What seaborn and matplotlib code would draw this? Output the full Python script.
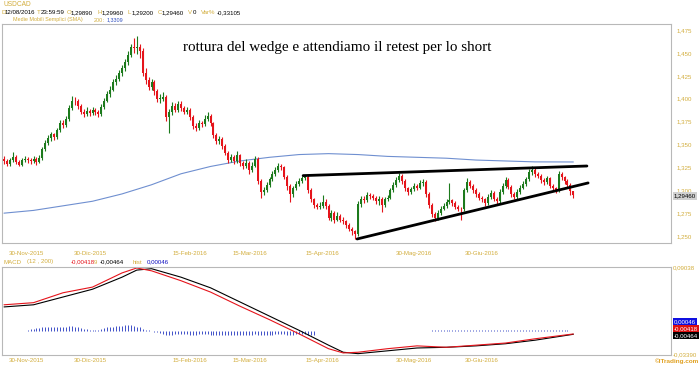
import matplotlib
matplotlib.use("Agg")
import matplotlib.pyplot as plt
import seaborn as sns
import pandas as pd

# ---------------- data ----------------
close = [1.332, 1.329, 1.333, 1.336, 1.331, 1.328, 1.333, 1.334, 1.333, 1.332,
         1.334, 1.331, 1.335, 1.345, 1.352, 1.357, 1.361, 1.358, 1.366, 1.374,
         1.371, 1.378, 1.390, 1.398, 1.397, 1.392, 1.386, 1.383, 1.387, 1.384,
         1.388, 1.385, 1.383, 1.391, 1.398, 1.405, 1.410, 1.418, 1.422, 1.428,
         1.433, 1.440, 1.448, 1.456, 1.455, 1.457, 1.452, 1.428, 1.420, 1.413,
         1.418, 1.408, 1.400, 1.400, 1.402, 1.380, 1.385, 1.392, 1.388, 1.394,
         1.390, 1.386, 1.388, 1.380, 1.370, 1.368, 1.374, 1.372, 1.378, 1.381,
         1.373, 1.360, 1.354, 1.356, 1.348, 1.341, 1.333, 1.336, 1.332, 1.338,
         1.330, 1.326, 1.330, 1.322, 1.327, 1.334, 1.310, 1.298, 1.300, 1.306,
         1.312, 1.318, 1.322, 1.327, 1.325, 1.315, 1.305, 1.296, 1.302, 1.307,
         1.310, 1.313, 1.315, 1.300, 1.290, 1.284, 1.282, 1.283, 1.287, 1.283,
         1.270, 1.275, 1.268, 1.272, 1.268, 1.266, 1.262, 1.258, 1.255, 1.252,
         1.285, 1.291, 1.289, 1.295, 1.294, 1.292, 1.288, 1.291, 1.284, 1.290,
         1.292, 1.300, 1.306, 1.311, 1.316, 1.310, 1.302, 1.298, 1.301, 1.305,
         1.303, 1.308, 1.309, 1.296, 1.284, 1.274, 1.270, 1.275, 1.280, 1.283,
         1.287, 1.289, 1.286, 1.282, 1.280, 1.279, 1.300, 1.309, 1.305, 1.300,
         1.296, 1.292, 1.290, 1.286, 1.293, 1.297, 1.291, 1.288, 1.298, 1.305,
         1.311, 1.304, 1.296, 1.293, 1.298, 1.303, 1.307, 1.312, 1.320, 1.322,
         1.318, 1.316, 1.311, 1.309, 1.313, 1.305, 1.302, 1.300, 1.318, 1.314,
         1.310, 1.306, 1.2989, 1.2946]
high = [1.337, 1.334, 1.335, 1.342, 1.338, 1.333, 1.335, 1.337, 1.336, 1.335,
        1.337, 1.336, 1.338, 1.347, 1.355, 1.360, 1.364, 1.363, 1.368, 1.377,
        1.377, 1.381, 1.393, 1.403, 1.402, 1.400, 1.394, 1.389, 1.391, 1.389,
        1.391, 1.390, 1.388, 1.394, 1.401, 1.408, 1.414, 1.421, 1.426, 1.431,
        1.437, 1.443, 1.452, 1.460, 1.466, 1.469, 1.460, 1.455, 1.433, 1.424,
        1.422, 1.420, 1.411, 1.405, 1.407, 1.404, 1.389, 1.396, 1.395, 1.398,
        1.397, 1.392, 1.391, 1.390, 1.382, 1.373, 1.377, 1.376, 1.382, 1.386,
        1.383, 1.375, 1.362, 1.359, 1.358, 1.350, 1.343, 1.340, 1.338, 1.343,
        1.340, 1.332, 1.334, 1.332, 1.331, 1.337, 1.336, 1.312, 1.304, 1.309,
        1.315, 1.321, 1.325, 1.330, 1.329, 1.327, 1.317, 1.307, 1.305, 1.310,
        1.313, 1.316, 1.317, 1.317, 1.302, 1.292, 1.286, 1.287, 1.295, 1.290,
        1.285, 1.278, 1.277, 1.276, 1.274, 1.271, 1.268, 1.264, 1.260, 1.257,
        1.288, 1.294, 1.294, 1.298, 1.297, 1.296, 1.294, 1.294, 1.293, 1.293,
        1.295, 1.303, 1.309, 1.314, 1.319, 1.318, 1.312, 1.304, 1.304, 1.308,
        1.307, 1.311, 1.312, 1.311, 1.298, 1.286, 1.276, 1.278, 1.283, 1.286,
        1.290, 1.308, 1.291, 1.288, 1.284, 1.282, 1.303, 1.313, 1.311, 1.307,
        1.302, 1.298, 1.294, 1.292, 1.296, 1.300, 1.299, 1.293, 1.301, 1.308,
        1.315, 1.313, 1.306, 1.298, 1.301, 1.306, 1.310, 1.315, 1.323, 1.326,
        1.324, 1.320, 1.318, 1.313, 1.316, 1.315, 1.307, 1.304, 1.321, 1.320,
        1.316, 1.312, 1.308, 1.2996]
low = [1.329, 1.326, 1.327, 1.331, 1.329, 1.326, 1.327, 1.331, 1.330, 1.329,
       1.330, 1.328, 1.330, 1.333, 1.343, 1.349, 1.354, 1.355, 1.356, 1.364,
       1.368, 1.369, 1.376, 1.388, 1.393, 1.389, 1.383, 1.380, 1.381, 1.381,
       1.382, 1.382, 1.380, 1.381, 1.389, 1.396, 1.402, 1.408, 1.415, 1.419,
       1.425, 1.430, 1.437, 1.446, 1.450, 1.449, 1.444, 1.425, 1.416, 1.410,
       1.410, 1.404, 1.396, 1.395, 1.397, 1.376, 1.363, 1.382, 1.385, 1.386,
       1.387, 1.383, 1.383, 1.377, 1.367, 1.365, 1.366, 1.369, 1.370, 1.376,
       1.370, 1.357, 1.351, 1.351, 1.345, 1.338, 1.330, 1.331, 1.329, 1.330,
       1.327, 1.323, 1.324, 1.318, 1.320, 1.325, 1.307, 1.292, 1.295, 1.298,
       1.304, 1.310, 1.316, 1.320, 1.322, 1.312, 1.300, 1.287, 1.293, 1.300,
       1.305, 1.308, 1.311, 1.297, 1.287, 1.281, 1.279, 1.279, 1.281, 1.280,
       1.267, 1.266, 1.264, 1.266, 1.265, 1.263, 1.259, 1.255, 1.251, 1.2465,
       1.250, 1.282, 1.286, 1.287, 1.291, 1.289, 1.285, 1.284, 1.276, 1.282,
       1.288, 1.290, 1.298, 1.304, 1.309, 1.307, 1.299, 1.295, 1.296, 1.299,
       1.300, 1.301, 1.305, 1.293, 1.281, 1.271, 1.266, 1.268, 1.273, 1.278,
       1.281, 1.285, 1.283, 1.279, 1.277, 1.268, 1.277, 1.298, 1.302, 1.297,
       1.293, 1.289, 1.287, 1.283, 1.284, 1.291, 1.288, 1.285, 1.286, 1.296,
       1.303, 1.301, 1.293, 1.290, 1.291, 1.296, 1.301, 1.305, 1.310, 1.317,
       1.315, 1.313, 1.308, 1.306, 1.307, 1.302, 1.299, 1.297, 1.298, 1.311,
       1.307, 1.303, 1.295, 1.2920]
first_open = 1.334

sma_idx = [0, 10, 20, 30, 40, 50, 60, 70, 80, 90, 100, 110, 120, 130, 140,
           150, 160, 170, 180, 193]
sma_val = [1.275, 1.278, 1.283, 1.288, 1.296, 1.306, 1.318, 1.326, 1.332,
           1.336, 1.339, 1.340, 1.339, 1.337, 1.336, 1.335, 1.333, 1.332,
           1.331, 1.3309]

macd_idx = [0, 10, 20, 30, 40, 45, 50, 60, 70, 80, 90, 100, 110, 115, 120,
            130, 140, 150, 160, 170, 180, 193]
macd_val = [0.037, 0.040, 0.054, 0.062, 0.082, 0.089, 0.085, 0.071, 0.055,
            0.035, 0.016, -0.004, -0.025, -0.031, -0.030, -0.025, -0.021,
            -0.023, -0.020, -0.017, -0.011, -0.00418]
signal_val = [0.034, 0.037, 0.048, 0.059, 0.076, 0.086, 0.088, 0.076, 0.061,
              0.041, 0.021, 0.001, -0.020, -0.030, -0.032, -0.028, -0.024,
              -0.023, -0.021, -0.018, -0.013, -0.00464]

hist_idx = list(range(8, 106)) + list(range(145, 194))
hist_val = [0.002, 0.003, 0.003, 0.004, 0.004, 0.005, 0.005, 0.006, 0.006, 0.005,
            0.005, 0.006, 0.006,
            0.006, 0.007, 0.007, 0.006, 0.005, 0.004, 0.003, 0.003, 0.002, 0.002,
            0.002, 0.002, 0.003,
            0.004, 0.005, 0.006, 0.006, 0.007, 0.007, 0.007, 0.008, 0.008, 0.008,
            0.007, 0.006, 0.005, 0.003, 0.002,
            0.001, 0.000, -0.001, -0.002,
            -0.003, -0.004, -0.005, -0.005, -0.005, -0.004, -0.004, -0.004, -0.004,
            -0.004, -0.005, -0.005, -0.005, -0.004, -0.004, -0.004, -0.004, -0.005,
            -0.005, -0.006, -0.006, -0.006, -0.006, -0.006, -0.006, -0.005, -0.005,
            -0.005, -0.005, -0.005, -0.005, -0.005, -0.004, -0.005, -0.006, -0.006,
            -0.006, -0.005,
            -0.005, -0.004, -0.004, -0.004, -0.004, -0.005, -0.005, -0.005, -0.004,
            -0.004, -0.004, -0.004, -0.005, -0.005, -0.005,
            0.001, 0.001, 0.001, 0.002, 0.002, 0.002, 0.002, 0.002, 0.001, 0.001,
            0.001, 0.002, 0.002, 0.002, 0.002, 0.001,
            0.001, 0.001, 0.001, 0.001, 0.002, 0.002, 0.002, 0.002, 0.002, 0.002,
            0.001, 0.001, 0.001, 0.001, 0.002, 0.002,
            0.002, 0.002, 0.002, 0.002, 0.002, 0.001, 0.001, 0.001, 0.001, 0.001,
            0.001, 0.001, 0.001, 0.001, 0.001, 0.0005, 0.00046]

upper_line_idx = [101.4, 197.6]
upper_line_val = [1.316, 1.3265]
lower_line_idx = [119.7, 198.0]
lower_line_val = [1.2468, 1.308]

price_ticks = [1.250, 1.275, 1.300, 1.325, 1.350, 1.375, 1.400, 1.425, 1.450, 1.475]
date_idx = [7.5, 29.2, 63.0, 83.4, 107.8, 139.0, 162.0]
date_labels = ["30-Nov-2015", "30-Dic-2015", "15-Feb-2016", "15-Mar-2016",
               "15-Apr-2016", "30-Mag-2016", "30-Giu-2016"]

# ---------------- styling ----------------
sns.set_style("white")
plt.rcParams["font.family"] = ["Liberation Sans", "DejaVu Sans"]
GOLD = "#d2ad3c"
GREEN = "#1c7a1c"
RED = "#e5141b"
BORDER = "#b8b8b8"
SMALL = 4.4

W, H = 700, 365
fig = plt.figure(figsize=(7.0, 3.65), dpi=100)


def px_axes(x0, y0, x1, y1):
    return fig.add_axes([x0 / W, 1 - y1 / H, (x1 - x0) / W, (y1 - y0) / H])


ax = px_axes(2, 24, 671, 243)
axm = px_axes(2, 267, 671, 355)

n = len(close)
idx = list(range(n))
opn = [first_open] + close[:-1]
df = pd.DataFrame({"i": idx, "o": opn, "h": high, "l": low, "c": close})
df["up"] = df["c"] >= df["o"]
df["col"] = df["up"].map({True: GREEN, False: RED})
df["bot"] = df[["o", "c"]].min(axis=1)
df["body"] = (df["c"] - df["o"]).abs().clip(lower=0.0004)

# candles
ax.vlines(df["i"], df["l"], df["h"], colors=df["col"], lw=0.8, zorder=2)
ax.bar(df["i"], df["body"], bottom=df["bot"], width=0.66, color=df["col"],
       linewidth=0, zorder=3)

# moving average
sns.lineplot(x=sma_idx, y=sma_val, ax=ax, color="#6f8fd0", lw=0.8, zorder=1)

# wedge lines
sns.lineplot(x=upper_line_idx, y=upper_line_val, ax=ax, color="black", lw=2.0, zorder=4)
sns.lineplot(x=lower_line_idx, y=lower_line_val, ax=ax, color="black", lw=2.0, zorder=4)

xmin, xmax = -0.68, 226.1
ax.set_xlim(xmin, xmax)
ax.set_ylim(1.2424, 1.4816)
ax.yaxis.tick_right()
ax.set_yticks(price_ticks)
ax.set_yticklabels([f"{t:.3f}".replace(".", ",") for t in price_ticks])
ax.set_xticks(date_idx)
ax.set_xticklabels(date_labels)
ax.tick_params(axis="both", length=0, labelsize=SMALL, labelcolor=GOLD, pad=4)
ax.tick_params(axis="x", pad=6)

# MACD panel
axm.vlines(hist_idx, 0, hist_val, colors="#4050c8", lw=0.7)
sns.lineplot(x=macd_idx, y=signal_val, ax=axm, color="black", lw=0.8)
sns.lineplot(x=macd_idx, y=macd_val, ax=axm, color=RED, lw=0.8)
axm.set_xlim(xmin, xmax)
axm.set_ylim(-0.0339, 0.09038)
axm.yaxis.tick_right()
axm.set_yticks([])
axm.set_xticks(date_idx)
axm.set_xticklabels(date_labels)
axm.tick_params(axis="x", length=0, labelsize=SMALL, labelcolor=GOLD, pad=2)

for a in (ax, axm):
    for s in a.spines.values():
        s.set_color(BORDER)
        s.set_linewidth(0.8)

# right-side value labels
def box(xp, yp, txt, fc, tc):
    fig.text(xp / W, 1 - yp / H, txt, fontsize=SMALL, color=tc, va="center", ha="left",
             zorder=10, bbox=dict(boxstyle="square,pad=0.2", fc=fc, ec="none"))

box(674, 196, "1,29460", "#d0d0d0", "black")
box(674, 321.5, "0,00046", "#1010e0", "white")
box(674, 328.5, "-0,00418", "#e01010", "white")
box(674, 335.5, "-0,00464", "black", "white")
fig.text(673 / W, 1 - 268 / H, "0,09038", fontsize=SMALL, color=GOLD, va="center")
fig.text(673 / W, 1 - 355 / H, "-0,03390", fontsize=SMALL, color=GOLD, va="center")
fig.text(699 / W, 1 - 361 / H, "\u00a9ITrading.com", fontsize=4.6, color="#e0a020",
         va="center", ha="right", fontweight="bold")

# header
def seg(xp, yp, txt, col, fs=SMALL):
    fig.text(xp / W, 1 - yp / H, txt, fontsize=fs, color=col, va="center", ha="left")

seg(3, 5, "USDCAD", GOLD, 4.8)
for xp, txt, col in [(1, "D", GOLD), (5, "12/08/2016", "black"), (37, "T", GOLD),
                     (41, "23:59:59", "black"), (67, "O", GOLD), (71, "1,29890", "black"),
                     (97, "H", GOLD), (102, "1,29960", "black"), (128, "L", GOLD),
                     (132, "1,29200", "black"), (158, "C", GOLD), (162, "1,29460", "black"),
                     (188, "V", GOLD), (193, "0", "black"), (201, "Var%", GOLD),
                     (217, "-0,33105", "black")]:
    seg(xp, 13, txt, col)
seg(13, 20, "Medie Mobili Semplici (SMA)", GOLD, 3.9)
seg(94, 20, "200", GOLD, 3.9)
seg(103, 20, ":", GOLD, 3.9)
seg(107, 20, "1,3309", "#3050c0", 3.9)

# MACD header
for xp, txt, col in [(3, "MACD", GOLD), (27, "(12 , 200)", GOLD), (71, "-0,00418", RED),
                     (94, "9", GOLD), (100, "-0,00464", "black"), (133, "hist", GOLD),
                     (147, "0,00046", "#1010c0")]:
    seg(xp, 262, txt, col)

# annotation
fig.text(183 / W, 1 - 47 / H, "rottura del wedge e attendiamo il retest per lo short",
         fontsize=10.9, family=["Liberation Serif"], color="black", va="center", ha="left")

fig.savefig("out.png", dpi=100)
